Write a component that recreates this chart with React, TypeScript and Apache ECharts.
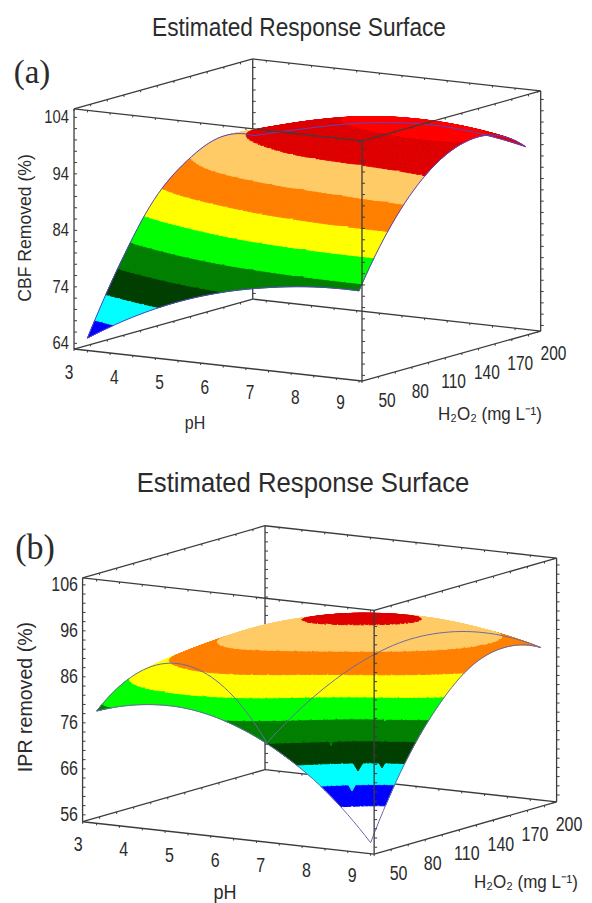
import React, { useEffect, useRef } from "react";
import * as echarts from "echarts";

// ---------- values ----------
const phTicks = [3, 4, 5, 6, 7, 8, 9];
const h2o2Ticks = [50, 80, 110, 140, 170, 200];
const cbfTicks = [64, 74, 84, 94, 104];
const iprTicks = [56, 66, 76, 86, 96, 106];

// response at each pH tick (rows) and H2O2 tick (columns)
const cbfPh3 = [65.2, 77.0, 86.4, 91.7, 94.2, 92.8];
const cbfPh4 = [69.8, 81.2, 90.0, 94.8, 96.7, 94.8];
const cbfPh5 = [73.4, 84.5, 92.3, 96.8, 98.8, 96.6];
const cbfPh6 = [76.0, 86.9, 93.7, 98.4, 100.3, 97.8];
const cbfPh7 = [77.7, 88.2, 94.3, 99.4, 100.9, 98.2];
const cbfPh8 = [78.7, 89.0, 95.0, 99.9, 100.8, 97.6];
const cbfPh9 = [78.9, 89.2, 96.1, 99.7, 99.9, 96.2];
const cbfSurface = [cbfPh3, cbfPh4, cbfPh5, cbfPh6, cbfPh7, cbfPh8, cbfPh9];

const iprPh3 = [78.9, 84.1, 85.0, 81.5, 73.7, 61.4];
const iprPh4 = [81.4, 88.3, 90.8, 89.0, 82.9, 72.3];
const iprPh5 = [81.6, 90.2, 94.4, 94.3, 89.8, 80.8];
const iprPh6 = [79.2, 88.0, 94.3, 96.7, 94.0, 86.8];
const iprPh7 = [74.4, 83.0, 91.8, 96.3, 95.5, 89.9];
const iprPh8 = [67.2, 77.0, 87.8, 93.8, 94.4, 90.5];
const iprPh9 = [56.9, 72.0, 82.6, 89.2, 91.0, 88.7];
const iprSurface = [iprPh3, iprPh4, iprPh5, iprPh6, iprPh7, iprPh8, iprPh9];

const bandEdges = [-999, 64, 68, 72, 76, 80, 84, 88, 92, 96, 100, 104, 999];
const bandColors = ["#ffffff", "#0000ff", "#00ffff", "#003f00", "#007f00", "#00ff00", "#ffff00", "#ff8000", "#ffcb66", "#de0000", "#ff0000", "#ff0000"];

// ---------- panel geometry (screen units of the hidden axes) ----------
const INK = "#2b2b2b";
const panelA = {
  surface: cbfSurface, vTicks: cbfTicks, vTickStart: 64,
  x0: 87.5, y0: 350.5, xp: 45.25, xh: 1.11, yp: 5.03, yh: -0.31, vBase: 63, vs: 5.65, vTop: 105.5,
  pLo: 2.702, pHi: 9.066, hHi: 211, edge: "#5a44c4",
  title: "Estimated Response Surface", titleX: 299, titleY: 27, titleSize: 22.7,
  tag: "(a)", tagX: 32, tagY: 71, tagSize: 33,
  vTitle: "CBF Removed (%)", vTitleX: 25, vTitleY: 228, vTitleSize: 17.6,
  vLabelX: 69, vLabelSize: 14.8,
  phTitleX: 195, phTitleY: 423, phTitleSize: 16,
  hTitle: "H₂O₂ (mg L⁻¹)", hTitleX: 490, hTitleY: 414, hTitleSize: 17,
  tickLabelSize: 15.5,
  notches: [] as number[][],
};
const panelB = {
  surface: iprSurface, vTicks: iprTicks, vTickStart: 56,
  x0: 96.6, y0: 823.3, xp: 45.67, xh: 1.136, yp: 5.07, yh: -0.325, vBase: 54.5, vs: 4.6, vTop: 107.5,
  pLo: 2.693, pHi: 9.077, hHi: 210.6, edge: "#6a6aa8",
  title: "Estimated Response Surface", titleX: 303, titleY: 483, titleSize: 25.7,
  tag: "(b)", tagX: 35, tagY: 547, tagSize: 34,
  vTitle: "IPR removed (%)", vTitleX: 25, vTitleY: 697, vTitleSize: 19.6,
  vLabelX: 78, vLabelSize: 16,
  phTitleX: 225, phTitleY: 892, phTitleSize: 18,
  hTitle: "H₂O₂ (mg L⁻¹)", hTitleX: 526, hTitleY: 882, hTitleSize: 17,
  tickLabelSize: 16,
  // small dents along the band borders: centre x, border y, tip y, half width, colour index
  notches: [
    [358, 761, 771, 6, 3],
    [382, 761, 768, 4, 3],
    [352, 782, 791, 5, 2],
    [331, 739, 746, 2, 4],
    [385, 717, 721, 2, 5],
  ] as number[][],
};

type Panel = typeof panelA;
type Pt = [number, number];
type Piece = { pts: Pt[]; fill: string };
type Line = { pts: Pt[]; color: string; width: number };
type Label = { text: string; x: number; y: number; size: number; align?: string; rot?: number; sy?: number; family?: string };

// screen position of a (pH, H2O2, response) triple
const proj = (g: Panel, p: number, h: number, v: number): Pt => [
  g.x0 + (p - 3) * g.xp + (h - 50) * g.xh,
  g.y0 + (p - 3) * g.yp + (h - 50) * g.yh - (v - g.vBase) * g.vs,
];

// spline through one row of read values
function spline(a: number[], u: number) {
  const n = a.length;
  const i = Math.min(Math.floor(u), n - 2);
  const s = u - i;
  const at = (k: number) => {
    if (k < 0) return 3 * a[0] - 3 * a[1] + a[2];
    if (k >= n) return 3 * a[n - 1] - 3 * a[n - 2] + a[n - 3];
    return a[k];
  };
  const [p0, p1, p2, p3] = [at(i - 1), at(i), at(i + 1), at(i + 2)];
  return 0.5 * (2 * p1 + (p2 - p0) * s + (2 * p0 - 5 * p1 + 4 * p2 - p3) * s * s + (3 * p1 - p0 - 3 * p2 + p3) * s * s * s);
}
const valueAt = (g: Panel, u: number, w: number) => spline(g.surface.map((row) => spline(row, w)), u);

type V3 = { x: number; y: number; v: number };
function clip(poly: V3[], limit: number, keepAbove: boolean) {
  const out: V3[] = [];
  for (let i = 0; i < poly.length; i++) {
    const a = poly[i];
    const b = poly[(i + 1) % poly.length];
    const ina = keepAbove ? a.v >= limit : a.v <= limit;
    const inb = keepAbove ? b.v >= limit : b.v <= limit;
    if (ina) out.push(a);
    if (ina !== inb) {
      const t = (limit - a.v) / (b.v - a.v);
      out.push({ x: a.x + (b.x - a.x) * t, y: a.y + (b.y - a.y) * t, v: limit });
    }
  }
  return out;
}

const NU = 8; // drawing steps per pH tick
const NW = 8; // drawing steps per H2O2 tick

function buildSurface(g: Panel) {
  const nu = (phTicks.length - 1) * NU;
  const nw = (h2o2Ticks.length - 1) * NW;
  const grid: V3[][] = [];
  for (let a = 0; a <= nu; a++) {
    const col: V3[] = [];
    for (let b = 0; b <= nw; b++) {
      const u = a / NU;
      const w = b / NW;
      const v = valueAt(g, u, w);
      const [x, y] = proj(g, 3 + u, 50 + w * 30, v);
      col.push({ x, y, v });
    }
    grid.push(col);
  }
  const pieces: Piece[] = [];
  for (let a = 0; a < nu; a++) {
    for (let b = nw - 1; b >= 0; b--) {
      const quad = [grid[a][b], grid[a + 1][b], grid[a + 1][b + 1], grid[a][b + 1]];
      const vals = quad.map((q) => q.v);
      const mn = Math.min(...vals);
      const mx = Math.max(...vals);
      bandColors.forEach((fill, k) => {
        const lo = bandEdges[k];
        const hi = bandEdges[k + 1];
        if (mx < lo || mn > hi) return;
        let poly = clip(quad, lo, true);
        if (poly.length) poly = clip(poly, hi, false);
        if (poly.length >= 3) pieces.push({ fill, pts: poly.map((q) => [q.x, q.y] as Pt) });
      });
    }
  }
  g.notches.forEach(([cx, yTop, yTip, hw, color]) => {
    pieces.push({ fill: bandColors[color], pts: [[cx - hw, yTop], [cx + hw, yTop], [cx, yTip]] });
  });
  const toPts = (arr: V3[]) => arr.map((q) => [q.x, q.y] as Pt);
  const edges: Line[] = [
    toPts(grid[0]),
    toPts(grid[nu]),
    toPts(grid.map((c) => c[0])),
    toPts(grid.map((c) => c[nw])),
  ].map((pts) => ({ pts, color: g.edge, width: 1 }));
  return { pieces, edges };
}

function buildBox(g: Panel) {
  const c = (p: number, h: number, v: number) => proj(g, p, h, v);
  const { pLo, pHi, hHi, vBase, vTop } = g;
  const col = "#3c3c3c";
  const seg = (a: Pt, b: Pt): Line => ({ pts: [a, b], color: col, width: 1.3 });
  const back: Line[] = [
    seg(c(pLo, hHi, vTop), c(pLo, 50, vTop)),
    seg(c(pLo, hHi, vTop), c(pHi, hHi, vTop)),
    seg(c(pLo, hHi, vTop), c(pLo, hHi, vBase)),
    seg(c(pLo, hHi, vBase), c(pLo, 50, vBase)),
    seg(c(pLo, hHi, vBase), c(pHi, hHi, vBase)),
    seg(c(pHi, hHi, vBase), c(pHi, hHi, vTop)),
    seg(c(pLo, 50, vBase), c(pLo, 50, vTop)),
  ];
  const front: Line[] = [
    seg(c(pLo, 50, vTop), c(pHi, 50, vTop)),
    seg(c(pHi, 50, vTop), c(pHi, hHi, vTop)),
    seg(c(pHi, 50, vBase), c(pHi, 50, vTop)),
    seg(c(pLo, 50, vBase), c(pHi, 50, vBase)),
    seg(c(pHi, 50, vBase), c(pHi, hHi, vBase)),
  ];
  const tick = (at: Pt, dx: number, dy: number): Line => ({
    pts: [at, [at[0] + dx, at[1] + dy]],
    color: col,
    width: 1,
  });
  for (let p = 3; p <= 9; p += 0.5) {
    back.push(tick(c(p, hHi, vBase), 0, 2), tick(c(p, hHi, vTop), 0, 2));
    front.push(tick(c(p, 50, vBase), 0, 2), tick(c(p, 50, vTop), 0, 2));
  }
  for (let h = 50; h <= 200; h += 15) {
    back.push(tick(c(pLo, h, vBase), 0, 2), tick(c(pLo, h, vTop), 0, 2));
    front.push(tick(c(pHi, h, vBase), 0, 2), tick(c(pHi, h, vTop), 0, 2));
  }
  for (let v = g.vTickStart; v <= vTop; v += 2) {
    back.push(tick(c(pLo, 50, v), 3, 0), tick(c(pLo, hHi, v), 3, 0), tick(c(pHi, hHi, v), 3, 0));
    front.push(tick(c(pHi, 50, v), 3, 0));
  }
  return { back, front };
}

function buildLabels(g: Panel) {
  const out: Label[] = [
    { text: g.title, x: g.titleX, y: g.titleY, size: g.titleSize, sy: 1.1 },
    { text: g.tag, x: g.tagX, y: g.tagY, size: g.tagSize, family: "'Liberation Serif', serif", sy: 1.05 },
    { text: g.vTitle, x: g.vTitleX, y: g.vTitleY, size: g.vTitleSize, rot: Math.PI / 2 },
    { text: "pH", x: g.phTitleX, y: g.phTitleY, size: g.phTitleSize, sy: 1.1 },
    { text: g.hTitle, x: g.hTitleX, y: g.hTitleY, size: g.hTitleSize, sy: 1.1 },
  ];
  phTicks.forEach((p) => {
    const [x, y] = proj(g, p, 50, g.vBase);
    out.push({ text: String(p), x: x - 18.5, y: y + 21.5, size: g.tickLabelSize, sy: 1.25 });
  });
  h2o2Ticks.forEach((h) => {
    const [x, y] = proj(g, 9, h, g.vBase);
    out.push({ text: String(h), x: x + 28, y: y + 19.5, size: g.tickLabelSize, sy: 1.25 });
  });
  g.vTicks.forEach((v) => {
    const [, y] = proj(g, g.pLo, 50, v);
    out.push({ text: String(v), x: g.vLabelX, y, size: g.vLabelSize, align: "right", sy: 1.25 });
  });
  return out;
}

function lineSeries(lines: Line[], z: number) {
  return {
    type: "custom",
    z,
    silent: true,
    clip: false,
    progressive: 0,
    coordinateSystem: "cartesian2d",
    encode: { x: 0, y: 1 },
    data: lines.map((l) => l.pts[0]),
    renderItem: (params: any, api: any) => {
      const l = lines[params.dataIndex];
      return {
        type: "polyline",
        shape: { points: l.pts.map((q) => api.coord(q)) },
        style: { fill: "none", stroke: l.color, lineWidth: l.width },
      };
    },
  };
}

function pieceSeries(pieces: Piece[], z: number) {
  return {
    type: "custom",
    z,
    silent: true,
    clip: false,
    progressive: 0,
    coordinateSystem: "cartesian2d",
    encode: { x: 0, y: 1 },
    data: pieces.map((s) => s.pts[0]),
    renderItem: (params: any, api: any) => {
      const s = pieces[params.dataIndex];
      return {
        type: "polygon",
        shape: { points: s.pts.map((q) => api.coord(q)) },
        style: { fill: s.fill, stroke: s.fill, lineWidth: 1 },
      };
    },
  };
}

function labelSeries(labels: Label[], z: number) {
  return {
    type: "custom",
    z,
    silent: true,
    clip: false,
    progressive: 0,
    coordinateSystem: "cartesian2d",
    encode: { x: 0, y: 1 },
    data: labels.map((l) => [l.x, l.y]),
    renderItem: (params: any, api: any) => {
      const l = labels[params.dataIndex];
      const [x, y] = api.coord([l.x, l.y]);
      return {
        type: "text",
        x,
        y,
        rotation: l.rot || 0,
        scaleY: l.sy || 1,
        style: {
          text: l.text,
          fill: INK,
          align: l.align || "center",
          verticalAlign: "middle",
          font: `${l.size}px ${l.family || "'Liberation Sans', Arial, sans-serif"}`,
        },
      };
    },
  };
}

export default function App() {
  const ref = useRef<HTMLDivElement>(null);
  useEffect(() => {
    if (!ref.current) return;
    const chart = echarts.init(ref.current, undefined, { renderer: "svg" });
    const series: any[] = [];
    [panelA, panelB].forEach((g) => {
      const { pieces, edges } = buildSurface(g);
      const { back, front } = buildBox(g);
      series.push(lineSeries(back, 1));
      series.push(pieceSeries(pieces, 2));
      series.push(lineSeries(edges, 3));
      series.push(lineSeries(front, 4));
      series.push(labelSeries(buildLabels(g), 5));
    });
    chart.setOption({
      animation: false,
      backgroundColor: "#ffffff",
      grid: { left: 0, right: 0, top: 0, bottom: 0 },
      xAxis: { type: "value", min: 0, max: 592, show: false },
      yAxis: { type: "value", min: 0, max: 903, inverse: true, show: false },
      series,
    });
    return () => chart.dispose();
  }, []);
  return <div ref={ref} style={{ position: "absolute", left: 0, top: 0, width: 592, height: 903 }} />;
}
